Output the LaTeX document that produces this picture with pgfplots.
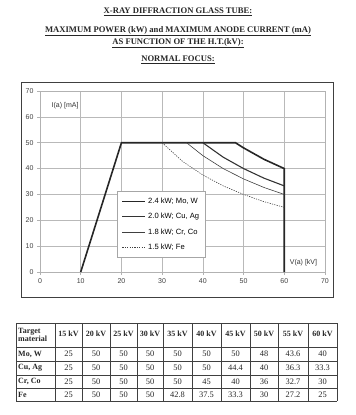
\documentclass[border=0pt]{standalone}
\usepackage{pgfplots}
\pgfplotsset{compat=1.18}
\usepackage{fontspec}
\setmainfont{Liberation Serif}
\newfontfamily\arial{Liberation Sans}
\begin{document}
\begin{tikzpicture}[x=1pt,y=-1pt]
\path[use as bounding box] (0,0) rectangle (356,415);
% titles
\begin{scope}[every node/.style={font=\fontsize{8.6}{9}\selectfont\bfseries, inner sep=0pt, text=black!85}]
\node at (178,12) {\underline{X-RAY DIFFRACTION GLASS TUBE:}};
\node at (178,31) {\underline{MAXIMUM POWER (kW) and MAXIMUM ANODE CURRENT (mA)}};
\node at (178,43) {\underline{AS FUNCTION OF THE H.T.(kV):}};
\node at (178,60) {\underline{NORMAL FOCUS:}};
\end{scope}
% chart frame
\draw[gray!50!black, line width=0.8pt] (21,82) rectangle (333,297);
\begin{axis}[
  at={(40pt,-272pt)}, anchor=south west,
  width=285pt, height=181pt, scale only axis,
  xmin=0, xmax=70, ymin=0, ymax=70,
  xtick={0,10,...,70}, ytick={0,10,...,70},
  xtick pos=left, ytick pos=left,
  grid=major, grid style={gray!55, line width=0.5pt},
  axis line style={gray!60, line width=0.5pt},
  tick style={gray!60, line width=0.5pt}, tick align=outside, major tick length=3pt,
  ticklabel style={font=\arial\fontsize{7}{8}\selectfont, text=gray!50!black},
  /pgf/number format/assume math mode=true,
  clip=false,
  legend style={at={(axis cs:19,31.3)}, anchor=north west, draw=gray!70, fill=white,
    font=\arial\fontsize{7.6}{8}\selectfont, row sep=4.4pt, inner xsep=4pt, inner ysep=4.5pt,
    line width=0.5pt},
  legend cell align=left,
  legend image code/.code={\draw[#1] (0pt,0pt) -- (23pt,0pt);},
]
\addplot[black!85, line width=1.6pt] coordinates {(10,0) (20,50) (45,50) (48,50) (50,48) (55,43.6) (60,40) (60,0)};
\addlegendentry{2.4 kW; Mo, W}
\addplot[black!80, line width=1.1pt] coordinates {(40,50) (45,44.4) (50,40) (55,36.3) (60,33.3)};
\addlegendentry{2.0 kW; Cu, Ag}
\addplot[black!75, line width=0.6pt] coordinates {(36,50) (40,45) (45,40) (50,36) (55,32.7) (60,30)};
\addlegendentry{1.8 kW; Cr, Co}
\addplot[black!75, line width=0.6pt, dash pattern=on 1.2pt off 1.2pt] coordinates {(30,50) (35,42.8) (40,37.5) (45,33.3) (50,30) (55,27.2) (60,25)};
\addlegendentry{1.5 kW; Fe}
\node[font=\arial\fontsize{7}{8}\selectfont, text=black!80, anchor=west] at (axis cs:2.0,64.5) {I(a) [mA]};
\node[font=\arial\fontsize{7}{8}\selectfont, text=black!80, anchor=west] at (axis cs:60.5,3.5) {V(a) [kV]};
\end{axis}
% table
\foreach \x in {16,55,82,110,137,163,192,221,250,278,308,337} \draw[black!75, line width=0.6pt] (\x,323) -- (\x,401);
\foreach \y in {323,347,361,375,388,401} \draw[black!75, line width=0.6pt] (16,\y) -- (337,\y);
\node[font=\fontsize{8}{8.8}\selectfont\bfseries, align=left, anchor=west, inner sep=0pt, text=black!85] at (18,335) {Target\\material};
\foreach \c/\t in {68.5/15,96/20,123.5/25,150/30,177.5/35,206.5/40,235.5/45,264/50,293/55,322.5/60}
  \node[font=\fontsize{8}{9}\selectfont\bfseries, inner sep=0pt, text=black!85] at (\c,333.5) {\t{} kV};
\foreach \r/\m/\vals in {354/{Mo, W}/{25,50,50,50,50,50,50,48,43.6,40},
                         368/{Cu, Ag}/{25,50,50,50,50,50,44.4,40,36.3,33.3},
                         381.5/{Cr, Co}/{25,50,50,50,50,45,40,36,32.7,30},
                         394.5/{Fe}/{25,50,50,50,42.8,37.5,33.3,30,27.2,25}} {
  \node[font=\fontsize{8}{9}\selectfont\bfseries, anchor=west, inner sep=0pt, text=black!85] at (18,\r) {\m};
  \foreach \v [count=\i] in \vals {
    \pgfmathsetmacro{\cx}{{68.5,96,123.5,150,177.5,206.5,235.5,264,293,322.5}[\i-1]}
    \node[font=\fontsize{8.4}{9}\selectfont, inner sep=0pt, text=black!85] at (\cx,\r) {\v};
  }
}
\end{tikzpicture}
\end{document}
